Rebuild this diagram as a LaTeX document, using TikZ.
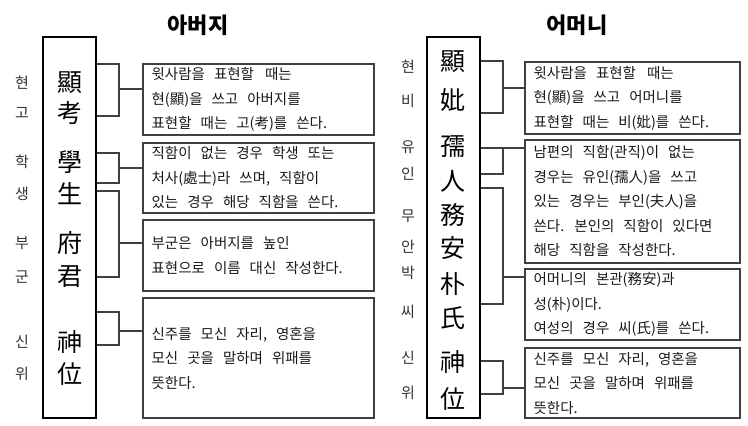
\documentclass[tikz,border=0pt]{standalone}
\usepackage{fontspec}
\usetikzlibrary{positioning}
\setmainfont{Noto Sans CJK KR}
\newcommand\notefont{\fontsize{14.5}{24.5}\selectfont\spaceskip 9pt plus 1pt\relax}
\newcommand\widegap{\hspace{11pt}}
\begin{document}
\begin{tikzpicture}[x=1pt,y=-1pt,
    colbox/.style={draw=black, line width=2.2pt, minimum width=53pt, minimum height=381pt, inner sep=0pt},
    notebox/.style={draw=black!75, line width=1.1pt, inner sep=0pt},
    notetext/.style={align=left, inner sep=0pt, font=\notefont, text=black!90},
    hanja/.style={font=\fontsize{25}{25}\selectfont},
    reading/.style={font=\fontsize{15}{15}\selectfont, text=black!80},
    title/.style={font=\fontsize{22}{22}\selectfont\bfseries},
    link/.style={draw=black!75, line width=1.1pt}]
    \useasboundingbox (0,0) rectangle (748,426);

    % titles
    \node[title] (ltitle) at (198,25) {아버지};
    \node[title] (rtitle) at (577,25) {어머니};

    % father: tall box with hanja and readings
    \node[colbox] (lcol) at (69.5,227.5) {};
    \foreach \ch/\rd/\yy [count=\i] in {顯/현/83, 考/고/113, 學/학/162, 生/생/194,
        府/부/243, 君/군/277, 神/신/342, 位/위/374} {
        \node[hanja] (lh\i) at (70,\yy) {\ch};
        \node[reading] (lr\i) at (22,\yy) {\rd};
    }

    % father: notes
    \node[notebox, minimum width=231pt, minimum height=71pt] (l1) at (258.5,99.5) {};
    \node[notebox, minimum width=231pt, minimum height=70pt] (l2) at (258.5,178) {};
    \node[notebox, minimum width=231pt, minimum height=71pt] (l3) at (258.5,255.5) {};
    \node[notebox, minimum width=231pt, minimum height=120pt] (l4) at (258.5,358) {};
    \node[notetext, right=9pt of l1.west] (l1t)
        {윗사람을 표현할\widegap 때는\\현(顯)을 쓰고 아버지를\\표현할 때는 고(考)를 쓴다.};
    \node[notetext, right=9pt of l2.west] (l2t)
        {직함이 없는 경우 학생 또는\\처사(處士)라 쓰며, 직함이\\있는 경우 해당 직함을 쓴다.};
    \node[notetext, right=9pt of l3.west] (l3t)
        {부군은 아버지를 높인\\표현으로 이름 대신 작성한다.};
    \node[notetext, right=9pt of l4.west] (l4t)
        {신주를 모신 자리, 영혼을\\모신 곳을 말하며 위패를\\뜻한다.};

    % father: brackets
    \draw[link] (lcol.east |- 0,64) -| (119,116) -- (lcol.east |- 0,116);
    \draw[link] (119,89) -- (l1.west |- 0,89);
    \draw[link] (lcol.east |- 0,153) -| (119,183) -- (lcol.east |- 0,183);
    \draw[link] (119,168) -- (l2.west |- 0,168);
    \draw[link] (lcol.east |- 0,191) -| (119,277) -- (lcol.east |- 0,277);
    \draw[link] (119,243) -- (l3.west |- 0,243);
    \draw[link] (lcol.east |- 0,312) -| (119,345) -- (lcol.east |- 0,345);
    \draw[link] (119,331) -- (l4.west |- 0,331);

    % mother: tall box with hanja and readings
    \node[colbox] (rcol) at (453.5,227.5) {};
    \foreach \ch/\yy [count=\i] in {顯/62, 妣/100, 孺/147, 人/181, 務/215,
        安/248, 朴/284, 氏/318, 神/362, 位/399} {
        \node[hanja] (rh\i) at (453,\yy) {\ch};
    }
    \foreach \rd/\yy [count=\i] in {현/67, 비/101, 유/147, 인/174, 무/216,
        안/247, 박/273, 씨/312, 신/358, 위/393} {
        \node[reading] (rr\i) at (408,\yy) {\rd};
    }

    % mother: notes
    \node[notebox, minimum width=215pt, minimum height=72pt] (r1) at (632.5,98) {};
    \node[notebox, minimum width=215pt, minimum height=123pt] (r2) at (632.5,201.5) {};
    \node[notebox, minimum width=215pt, minimum height=71pt] (r3) at (632.5,304.5) {};
    \node[notebox, minimum width=215pt, minimum height=70pt] (r4) at (632.5,383) {};
    \node[notetext, right=9pt of r1.west] (r1t)
        {윗사람을 표현할\widegap 때는\\현(顯)을 쓰고 어머니를\\표현할 때는 비(妣)를 쓴다.};
    \node[notetext, right=9pt of r2.west] (r2t)
        {남편의 직함(관직)이 없는\\경우는 유인(孺人)을 쓰고\\있는 경우는 부인(夫人)을\\쓴다. 본인의 직함이 있다면\\해당 직함을 작성한다.};
    \node[notetext, right=9pt of r3.west] (r3t)
        {어머니의 본관(務安)과\\성(朴)이다.\\여성의 경우 씨(氏)를 쓴다.};
    \node[notetext, right=9pt of r4.west] (r4t)
        {신주를 모신 자리, 영혼을\\모신 곳을 말하며 위패를\\뜻한다.};

    % mother: brackets
    \draw[link] (rcol.east |- 0,61) -| (503,113) -- (rcol.east |- 0,113);
    \draw[link] (503,88) -- (r1.west |- 0,88);
    \draw[link] (rcol.east |- 0,148) -| (503,174) -- (rcol.east |- 0,174);
    \draw[link] (503,148) -- (r2.west |- 0,148);
    \draw[link] (rcol.east |- 0,188) -| (503,304) -- (rcol.east |- 0,304);
    \draw[link] (503,277) -- (r3.west |- 0,277);
    \draw[link] (rcol.east |- 0,361) -| (503,394) -- (rcol.east |- 0,394);
    \draw[link] (503,388) -- (r4.west |- 0,388);
\end{tikzpicture}
\end{document}
